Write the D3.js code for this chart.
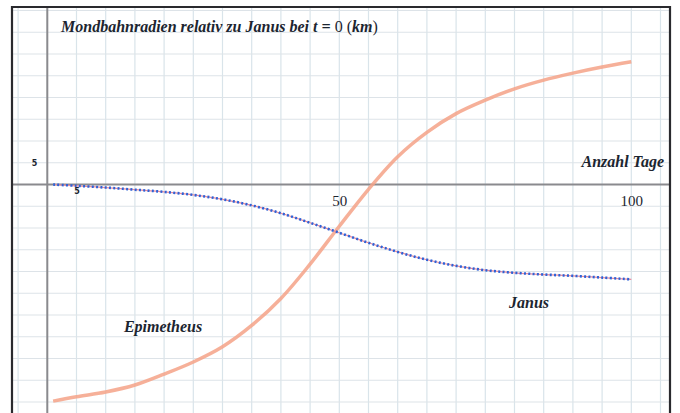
<!DOCTYPE html>
<html>
<head>
<meta charset="utf-8">
<script src="https://cdn.jsdelivr.net/npm/d3@7"></script>
<style>
  body { margin: 0; background: #fff; }
  text { fill: #1c2530; }
  .lbl { font-family: "Liberation Serif", serif; font-weight: bold; font-style: italic; font-size: 16px; }
</style>
</head>
<body>
<svg id="chart" width="680" height="413"></svg>
<script>
// values (days, km relative to Janus at t = 0)
const days = [1, 5, 10, 15, 20, 25, 30, 35, 40, 45, 50, 55, 60, 65, 70, 75, 80, 85, 90, 95, 100];
const epimetheus = [-49.8, -48.8, -47.7, -46.1, -43.6, -40.8, -37.3, -32.4, -26.2, -18.3, -9.6, -1.1, 6.4, 12.0, 16.3, 19.4, 22.0, 24.0, 25.6, 27.0, 28.2];
const janus = [0, -0.3, -0.7, -1.2, -1.7, -2.4, -3.4, -4.8, -6.6, -8.8, -11.1, -13.4, -15.5, -17.3, -18.7, -19.7, -20.3, -20.7, -21.0, -21.4, -21.8];
const xTickLabels = [5, 50, 100];
const yTickLabels = [5];

const width = 680, height = 413;
const frame = { left: 12, right: 670, top: 7 };

const svg = d3.select("#chart");

// 0 days at x=47.3, 100 days at x=631.3 ; 0 km at y=184.5, 4.35 px per km
var x = d3.scaleLinear().domain([0, 100]).range([47.3, 631.3]);
var y = d3.scaleLinear().domain([0, 40]).range([184.5, 184.5 - 40 * 4.35]);

svg.append("clipPath").attr("id", "frame")
  .append("rect")
  .attr("x", frame.left).attr("y", frame.top)
  .attr("width", frame.right - frame.left).attr("height", height);

var g = svg.append("g").attr("clip-path", "url(#frame)");

// squared paper
g.append("g")
  .selectAll("line")
  .data(d3.range(-5, 110, 5))
  .enter().append("line")
  .attr("x1", d => x(d)).attr("x2", d => x(d))
  .attr("y1", frame.top).attr("y2", height)
  .attr("stroke", "#d9e4ea").attr("stroke-width", 1.2);

g.append("g")
  .selectAll("line")
  .data(d3.range(-55, 45, 5))
  .enter().append("line")
  .attr("x1", frame.left).attr("x2", frame.right)
  .attr("y1", d => y(d)).attr("y2", d => y(d))
  .attr("stroke", "#dde3e8").attr("stroke-width", 1.2);

// axes lines
g.append("line")
  .attr("x1", x(0)).attr("x2", x(0))
  .attr("y1", frame.top).attr("y2", height)
  .attr("stroke", "#8a8a8e").attr("stroke-width", 2);
g.append("line")
  .attr("x1", frame.left).attr("x2", frame.right)
  .attr("y1", y(0)).attr("y2", y(0))
  .attr("stroke", "#8a8a8e").attr("stroke-width", 2);

// tick labels
var xAxis = g.append("g")
  .attr("transform", "translate(0," + y(0) + ")")
  .call(d3.axisBottom(x).tickValues(xTickLabels).tickSize(0).tickPadding(0));
xAxis.select(".domain").remove();
xAxis.selectAll("text")
  .attr("fill", "#1c2530")
  .attr("dy", d => d === 5 ? "9px" : "21px")
  .style("font-family", d => d === 5 ? "DejaVu Sans, sans-serif" : "Liberation Serif, serif")
  .style("font-size", d => d === 5 ? "8px" : "15px")
  .style("font-weight", d => d === 5 ? "bold" : "normal");

var yAxis = g.append("g")
  .attr("transform", "translate(" + x(0) + ",0)")
  .call(d3.axisLeft(y).tickValues(yTickLabels).tickSize(0).tickPadding(10));
yAxis.select(".domain").remove();
yAxis.selectAll("text")
  .attr("fill", "#3a4048")
  .style("font-family", "DejaVu Sans, sans-serif")
  .style("font-size", "8px")
  .style("font-weight", "bold");

// curves
var line = d3.line().curve(d3.curveCatmullRom.alpha(0.5));

g.append("path")
  .datum(days.map((d, i) => [x(d), y(epimetheus[i])]))
  .attr("d", line)
  .attr("fill", "none")
  .attr("stroke", "#f4a287")
  .attr("stroke-opacity", 0.85)
  .attr("stroke-width", 3.5);

var janusPts = days.map((d, i) => [x(d), y(janus[i])]);
g.append("path")
  .datum(janusPts)
  .attr("d", line)
  .attr("fill", "none")
  .attr("stroke", "#e98a9e")
  .attr("stroke-width", 1.2);
g.append("path")
  .datum(janusPts)
  .attr("d", line)
  .attr("fill", "none")
  .attr("stroke", "#2e63d6")
  .attr("stroke-width", 2.6)
  .attr("stroke-dasharray", "2,2.3");

// frame
svg.append("path")
  .attr("d", `M${frame.left},${height + 5}V${frame.top}H${frame.right}V${height + 5}`)
  .attr("fill", "none")
  .attr("stroke", "#2a2a2e")
  .attr("stroke-width", 2.2);

// texts
var title = svg.append("text").attr("class", "lbl")
  .attr("x", 61).attr("y", 32);
title.append("tspan").text("Mondbahnradien relativ zu Janus bei t = ");
title.append("tspan").style("font-style", "normal").style("font-weight", "normal").text("0 (");
title.append("tspan").text("km");
title.append("tspan").style("font-style", "normal").style("font-weight", "normal").text(")");

svg.append("text").attr("class", "lbl")
  .attr("x", 664).attr("y", 167).attr("text-anchor", "end")
  .text("Anzahl Tage");

svg.append("text").attr("class", "lbl")
  .attr("x", 163).attr("y", 332).attr("text-anchor", "middle")
  .text("Epimetheus");

svg.append("text").attr("class", "lbl")
  .attr("x", 529).attr("y", 308).attr("text-anchor", "middle")
  .text("Janus");
</script>
</body>
</html>
